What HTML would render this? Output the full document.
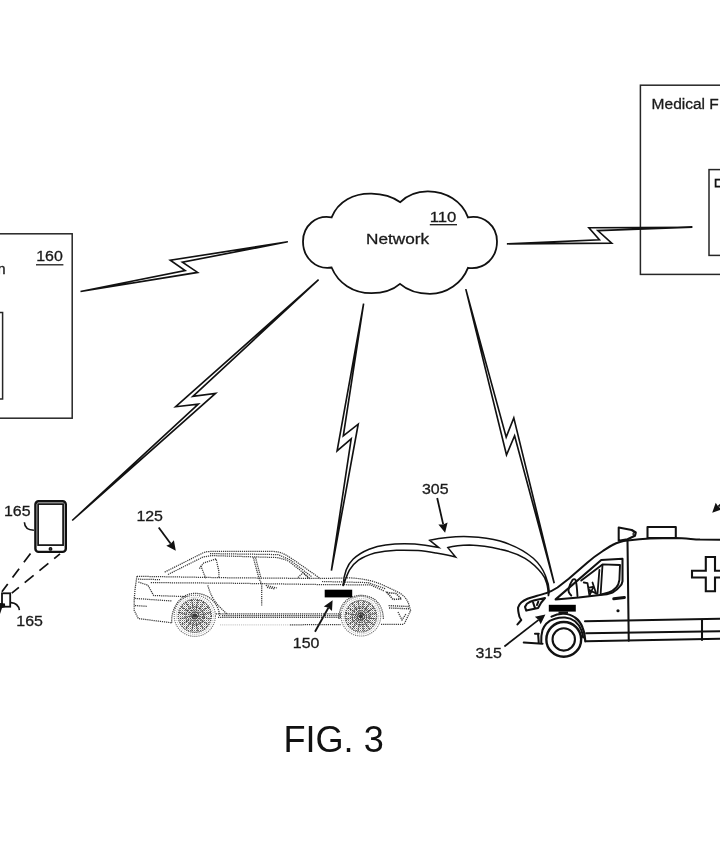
<!DOCTYPE html>
<html><head><meta charset="utf-8"><title>FIG. 3</title>
<style>
html,body{margin:0;padding:0;background:#fff;}
body{width:720px;height:845px;overflow:hidden;font-family:"Liberation Sans",sans-serif;}
svg{display:block;}
</style></head><body>
<svg width="720" height="845" viewBox="0 0 720 845">
<rect width="720" height="845" fill="#fff"/>
<g fill="none" stroke="#262626" stroke-width="1.5">
<rect x="-10" y="233.8" width="82.2" height="184.4"/>
<rect x="-10" y="312.5" width="12.6" height="86.5"/>
<rect x="640.4" y="85.2" width="100" height="189.2"/>
<rect x="709" y="169.6" width="30" height="85.8"/>
</g>
<rect x="715.6" y="179.6" width="8" height="7" fill="none" stroke="#111" stroke-width="1.8"/>
<path d="M331.6,217.4 C338,201 354,193.2 371.5,193.6 C383,193.8 393,197 400.3,202.2 C407,195.5 417,191.3 428,191.4 C446,191.6 462,201 468,217.4 C484,214.5 497,226 497,241.5 C497,257.5 485,270 468,267.8 C462,283 447,293.8 430,293.8 C418,293.8 407,290 400,283.9 C393,290 383,293.2 371.5,293.2 C353,293.2 338,283 331.6,267.5 C316,270 303,258 303,241.5 C303,226 316,214.5 331.6,217.4 Z" fill="#fff" stroke="#111" stroke-width="1.8" stroke-linejoin="miter"/>
<path d="M80.5,291.5 L185.1,270.6 L170.3,260.3 L287.8,241.8 L182.4,262.2 L197.6,272.4Z" fill="#fff" stroke="#111" stroke-width="1.65" stroke-linejoin="miter"/>
<path d="M506.9,243.9 L599.4,239.7 L588.9,227.8 L692.4,227.2 L597.8,230.6 L611.7,243.1Z" fill="#fff" stroke="#111" stroke-width="1.65" stroke-linejoin="miter"/>
<path d="M72.2,520.5 L198.3,404.1 L175.7,406.7 L318.6,279.7 L192.9,396.4 L215.5,393.4Z" fill="#fff" stroke="#111" stroke-width="1.65" stroke-linejoin="miter"/>
<path d="M331.4,570.6 L351.2,438.8 L337.1,450.8 L363.6,303.6 L343.3,435.8 L358.2,424.2Z" fill="#fff" stroke="#111" stroke-width="1.65" stroke-linejoin="miter"/>
<path d="M554.2,583.3 L514.6,435.8 L506.5,455.0 L465.8,289.1 L506.2,437.1 L513.8,417.9Z" fill="#fff" stroke="#111" stroke-width="1.65" stroke-linejoin="miter"/>
<path d="M343,586 C343.8,574 347,565 353,559.3 C362,550.5 376,546 385.6,544.9 C398,543.4 415,543.8 425.3,545.2 L438.8,547.6 L429.8,540.3 C445,537.2 458,536.2 469.4,536.7 C482,537.2 492,538.6 500,541 C515,545.5 526,552 533.3,558.3 C539,563.5 543,569.5 545.4,575.5 C547.5,580.5 549,586 549.3,591.7 L548.4,596.2 C548.2,591 547.8,587 546.6,583 C545.5,579 544,576 541.7,573.3 C536,566 531,562 525,558.3 C517,553.6 509,551 500,549.3 C489,546.5 479,545.2 469.4,545 C461,545.2 454,546 447.9,547.6 L455.6,557.1 C449,555 443,554 436.1,553 C430,552 424,551 418,550.6 C411,550.2 404,550 396.4,550.3 C388,550.6 381,551.5 374.7,553 C368,555 363,557 358.5,560.2 C354,563.5 351.5,566.5 349.4,570.1 C347.3,574 346,578 344.9,581 Z" fill="#fff" stroke="#111" stroke-width="1.5" stroke-linejoin="miter"/>
<line x1="158.7" y1="527.5" x2="170.7" y2="543.8" stroke="#111" stroke-width="1.8"/><path d="M175.8,550.8 L166.3,545.8 L170.7,543.8 L173.9,540.3Z" fill="#111"/>
<line x1="315.0" y1="631.7" x2="328.4" y2="607.8" stroke="#111" stroke-width="1.8"/><path d="M332.6,600.3 L332.0,611.0 L328.4,607.8 L323.8,606.4Z" fill="#111"/>
<line x1="437.2" y1="498.0" x2="443.2" y2="524.4" stroke="#111" stroke-width="1.8"/><path d="M445.1,532.8 L438.4,524.5 L443.2,524.4 L447.6,522.4Z" fill="#111"/>
<line x1="504.4" y1="646.5" x2="538.6" y2="619.9" stroke="#111" stroke-width="1.8"/><path d="M545.4,614.6 L540.7,624.2 L538.6,619.9 L534.9,616.8Z" fill="#111"/>
<line x1="727.0" y1="498.0" x2="718.3" y2="506.7" stroke="#111" stroke-width="1.8"/><path d="M712.2,512.8 L715.7,502.7 L718.3,506.7 L722.3,509.3Z" fill="#111"/>
<g font-family="Liberation Sans, sans-serif" fill="#1a1a1a" stroke="#1a1a1a" stroke-width="0.3" style="filter:grayscale(1)">
<text x="36.2" y="261.2" font-size="15.3" textLength="26.6" lengthAdjust="spacingAndGlyphs">160</text>
<text x="-7.2" y="274" font-size="15.5" >m</text>
<text x="429.8" y="221.8" font-size="15.3" textLength="26.6" lengthAdjust="spacingAndGlyphs">110</text>
<text x="366" y="244.4" font-size="15" textLength="63" lengthAdjust="spacingAndGlyphs">Network</text>
<text x="651.6" y="108.6" font-size="15.5" >Medical F</text>
<text x="136.4" y="520.5" font-size="15.3" textLength="26.6" lengthAdjust="spacingAndGlyphs">125</text>
<text x="292.8" y="648.4" font-size="15.3" textLength="26.6" lengthAdjust="spacingAndGlyphs">150</text>
<text x="422" y="493.7" font-size="15.3" textLength="26.6" lengthAdjust="spacingAndGlyphs">305</text>
<text x="475.4" y="657.8" font-size="15.3" textLength="26.6" lengthAdjust="spacingAndGlyphs">315</text>
<text x="4" y="516.4" font-size="15.3" textLength="26.6" lengthAdjust="spacingAndGlyphs">165</text>
<text x="16.3" y="625.9" font-size="15.3" textLength="26.6" lengthAdjust="spacingAndGlyphs">165</text>
<text x="283.5" y="751.7" font-size="36.1" fill="#111" stroke="none">FIG. 3</text>
</g>
<g stroke="#1a1a1a" stroke-width="1.3"><line x1="36" y1="264.8" x2="63.4" y2="264.8"/><line x1="429.8" y1="224.7" x2="457" y2="224.7"/></g>
<rect x="324.7" y="589.7" width="27.5" height="7.7" fill="#000"/>
<rect x="548.8" y="604.8" width="27" height="6.8" fill="#000"/>
<g fill="none" stroke="#111">
<rect x="35.4" y="501.2" width="30.4" height="50.7" rx="3.2" stroke-width="2.4"/>
<rect x="38.1" y="504.1" width="25" height="41" stroke-width="1.7" fill="#fff"/>
<circle cx="50.5" cy="548.9" r="1.3" stroke-width="1.3" fill="#555"/>
<path d="M24.4,522.2 C24.6,527 28,530 33.9,530.2" stroke-width="1.6"/>
<path d="M10.9,602.6 C15.5,602.8 18.6,605.5 19.4,610.2" stroke-width="1.6"/>
<line x1="30.5" y1="553.5" x2="1.9" y2="591.7" stroke-width="1.75" stroke-dasharray="11 8"/>
<line x1="60" y1="553.9" x2="11.8" y2="593.1" stroke-width="1.75" stroke-dasharray="11.5 7.5" stroke-dashoffset="4"/>
<rect x="2" y="593.3" width="8.2" height="13.4" stroke-width="1.8"/>
</g>
<path d="M0,603 L5,603.5 L5.2,607 L2,608 L0,614Z" fill="#111"/>
<defs><pattern id="ht" width="2" height="2" patternUnits="userSpaceOnUse"><rect width="2" height="2" fill="#fff"/><rect width="1" height="1" fill="#666"/><rect x="1" y="1" width="1" height="1" fill="#c4c4c4"/></pattern></defs>
<g fill="none" stroke="#383838" stroke-width="1.25" stroke-dasharray="1.2 0.9">
<path d="M136.9,576.3 L230,577.8 L320,578.5 L349.7,577.9 C358,578.3 364,579.2 370.5,580.7 C377,582.5 382,584.5 387.2,587 C393,589.8 397,591.5 401.1,593.9 C405.5,597 408,601 409.4,606.4 L410.6,610.5 L405.3,621.7 L403.9,624.4"/>
<path d="M164.7,572.1 L200.8,554 C203,552.5 206,551.6 210,551.5 L272,551.4 C277,551.6 280,552.2 282.5,553.3 C286,555 289,556.8 292.2,558.9 L306.1,568.6 L320,578.3"/>
<path d="M168,574.5 L203,557 L212,555.6 L275.5,557.5 C281,558.2 285,559.2 289.4,561.7 L303.3,572.8 L310.3,579"/>
<path d="M210,553.6 L278,554.6 L290,559.8 L312,577"/>
<path d="M150.8,582.6 L230,583.2 L323.3,584.6 L370.5,584.9 L384.4,591.1"/>
<path d="M322,581.5 L368,582.6 L386,589"/>
<path d="M136.9,576.3 L135.2,588 L134.2,599.2 L134.2,610.3 L138.3,618.6 L171.7,622.8"/>
<path d="M138.3,582 L148,585.3 L153.6,595.5 L198,597"/>
<path d="M134.6,598.4 L172,601"/>
<path d="M135,605.6 L147,606.3"/>
<path d="M138,579.2 L160,579.6"/>
<path d="M253.3,557.5 L258.9,578.3 L261.7,583.9 L261.7,606.1"/>
<path d="M255.5,557.5 L261,578.3"/>
<path d="M207.8,585.3 C210,594 214,601 218.9,606.1 L227.2,614.4"/>
<path d="M200.8,565.8 L205.7,578.3"/>
<path d="M199.4,568.6 L203.6,563 L216.1,558.9 L218.9,571.4 L218.9,577.4"/>
<path d="M265.8,585.3 L277,588 M267,587.4 L275,589"/>
<path d="M298,577.5 L303,572.8 L308,577.6"/>
<path d="M216,613.8 L341,613.8 M222,615.6 L341,615.6 M218,617.3 L341,617.3"/>
<path d="M290,624.8 L341,624.6 M381,624.4 L403.9,624.4"/>
<path d="M171.7,622.8 C171,607 181,593.5 195,593.3 C209,593.3 219,604 219.6,616"/>
<path d="M339,619 C339,604 348,595.4 361,595.4 C374,595.4 383,604 383.4,619"/>
<path d="M387,592.5 L396,593.5 L401.4,599 L393,599.4 Z" stroke-width="1.6"/>
<path d="M388.6,605.6 L409.4,606.6 M389,608 L409,608.8" stroke-width="1.4"/>
<path d="M398,612 L402,620 L406,614"/>
</g>
<path d="M220,624.9 L292,624.9" stroke="#bbb" stroke-width="1" stroke-dasharray="1.1 1" fill="none"/>
<circle cx="194.8" cy="615.8" r="20.6" fill="#fff" stroke="#6a6a6a" stroke-width="1.1" stroke-dasharray="1.1 1"/>
<circle cx="194.8" cy="615.8" r="18.6" fill="none" stroke="#aaa" stroke-width="1" stroke-dasharray="1 1.2"/>
<circle cx="194.8" cy="615.8" r="16.6" fill="url(#ht)" stroke="#444" stroke-width="1.2" stroke-dasharray="1.2 0.9"/>
<path d="M179.0,612.6 L210.6,619.0 M181.4,606.8 L208.2,624.8 M185.9,602.4 L203.7,629.2 M191.7,600.0 L197.9,631.6 M198.0,600.0 L191.6,631.6 M203.8,602.4 L185.8,629.2 M208.2,606.9 L181.4,624.7 M210.6,612.7 L179.0,618.9 " stroke="#3a3a3a" stroke-width="1.3" stroke-dasharray="1.3 1" fill="none"/>
<circle cx="194.8" cy="615.8" r="9" fill="none" stroke="#555" stroke-width="1.2" stroke-dasharray="1.2 1"/>
<circle cx="194.8" cy="615.8" r="2" fill="#3a3a3a"/>
<circle cx="360.9" cy="616.2" r="19.8" fill="#fff" stroke="#6a6a6a" stroke-width="1.1" stroke-dasharray="1.1 1"/>
<circle cx="360.9" cy="616.2" r="17.8" fill="none" stroke="#aaa" stroke-width="1" stroke-dasharray="1 1.2"/>
<circle cx="360.9" cy="616.2" r="15.8" fill="url(#ht)" stroke="#444" stroke-width="1.2" stroke-dasharray="1.2 0.9"/>
<path d="M345.9,613.2 L375.9,619.2 M348.2,607.7 L373.6,624.7 M352.4,603.4 L369.4,629.0 M358.0,601.2 L363.8,631.2 M363.9,601.2 L357.9,631.2 M369.4,603.5 L352.4,628.9 M373.7,607.7 L348.1,624.7 M375.9,613.3 L345.9,619.1 " stroke="#3a3a3a" stroke-width="1.3" stroke-dasharray="1.3 1" fill="none"/>
<circle cx="360.9" cy="616.2" r="9" fill="none" stroke="#555" stroke-width="1.2" stroke-dasharray="1.2 1"/>
<circle cx="360.9" cy="616.2" r="2" fill="#3a3a3a"/>
<g fill="none" stroke="#111" stroke-width="2.05" stroke-linejoin="round" stroke-linecap="round">
<path d="M517.5,624.4 L521.25,620 C519.8,618 518.9,616 518.75,613.75 C518.2,611.5 518,609.5 518.1,607.5 C518.6,605.5 519.6,604 521.25,602.5 C523,601 525,599.8 527.5,598.75 C530.5,597.6 533.5,596.8 536.25,596 C540,595 543,594.2 546.25,593.1 C551,591.5 554,589.8 557.5,587.5 L568.75,578.75 L587.5,562.5 C592,558.5 597,554.8 602.5,551.25 C606,549 609,546.8 612.5,545 C615,543.6 617.5,542.6 620,541.9 C622.5,541.2 625,540.8 627.5,540.6 C635,539.7 642,539 650,538.6 L675,538 C685,538.2 692,539.2 700,539.6 L722,539.7"/>
<path d="M627.5,540.6 L628.75,640.75"/>
<path d="M618.7,527.5 L618.7,540.8 L627.5,539.2 L635,535.8 L635.8,532.5 L631.7,530 Z" fill="#fff"/>
<rect x="647.5" y="527" width="28.3" height="11" fill="#fff"/>
<circle cx="634.3" cy="534" r="1.3" stroke-width="1.2"/>
<path d="M705.8,557 H715 V570.8 H730 V577.5 H715 V591.3 H705.8 V577.5 H692 V570.8 H705.8 Z" stroke-width="2.1" stroke-linejoin="miter"/>
<path d="M525,606.9 L526.9,603.75 C529,602.3 531,601.3 533.75,600.6 L545,598.1 L541.25,602.5 L538.1,608.1 L526.25,610.6 Z"/>
<path d="M533.1,602.5 L535,608.1 M538.2,601.8 L537,605"/>
<path d="M555.6,599.4 L601.25,560 L622.5,558.75 L622.5,581.25 C622,584 621,585.5 620,586.25 C618,589 615.5,591 612.5,592.5 C609,594 604,594.8 600,595 L578.75,597.5 Z"/>
<path d="M581.25,580.6 L602.5,564.4 L620,565 L619.4,580 C619,583 618,585.5 616.25,587.5 C614,590 611.5,591.5 608.75,592.5 C606,593.5 604,594 601.25,594.4" stroke-width="1.9"/>
<path d="M602.5,565 L600.6,594.4 M599.4,570 L597.5,593.75" stroke-width="1.8"/>
<path d="M571.25,595.5 C568.6,593 568.2,590.5 568.75,588.75 C569.5,585.5 570.8,582.5 572.5,580 C573.6,578.8 574.8,578.8 575.6,580 C576.6,583 577,588 577.5,596.25" stroke-width="1.9"/>
<path d="M583.75,582.5 L587.5,583.1 L589.4,595.3 M592.5,582.5 L596.25,593.75 M588.2,587.8 L593.8,586.6 M593.5,586.5 L590,594.5 M589.5,590 L596,593.5" stroke-width="1.8"/>
<path d="M613.75,598.75 L624.4,597.5" stroke-width="3"/>
<path d="M585,621.25 L722,618.75 M586.25,633.25 L722,631.25 M586.25,641.25 L722,638.75"/>
<path d="M702,620 L702,640"/>
<path d="M551.5,616.6 C556,614.2 560,613.6 563.75,613.75 C568,614 572,615.2 575,617.5 C578.5,620 581,623.5 582.5,627.5 C584,631 584.8,635 585,638.75 L585.3,641.3" stroke-width="2.2"/>
<path d="M541.25,642.5 C541,638 541.4,634 542.5,630 C543.5,627.5 544.6,625.6 546.25,623.75 C548.6,621.3 551.5,619.7 555,618.75 C558,617.8 561.5,617.3 565,617.5 C568.6,617.8 572,619 575,621.25 C577.8,623.6 580,626.5 581.25,630 C582.2,632.5 582.8,635 583.1,637.5"/>
<path d="M523.75,642.5 L542.5,643.75 M538.1,633.75 L538.75,642.5 M535,633.75 L538.75,633.75"/>
</g>
<rect x="558.5" y="611.5" width="9.5" height="2.2" fill="#111"/>
<circle cx="618" cy="610.75" r="1.6" fill="#111"/>
<circle cx="563.75" cy="639.4" r="17.4" fill="#fff" stroke="#111" stroke-width="2.4"/>
<circle cx="563.75" cy="639.4" r="11.2" fill="none" stroke="#111" stroke-width="2.1"/>
</svg>
</body></html>
